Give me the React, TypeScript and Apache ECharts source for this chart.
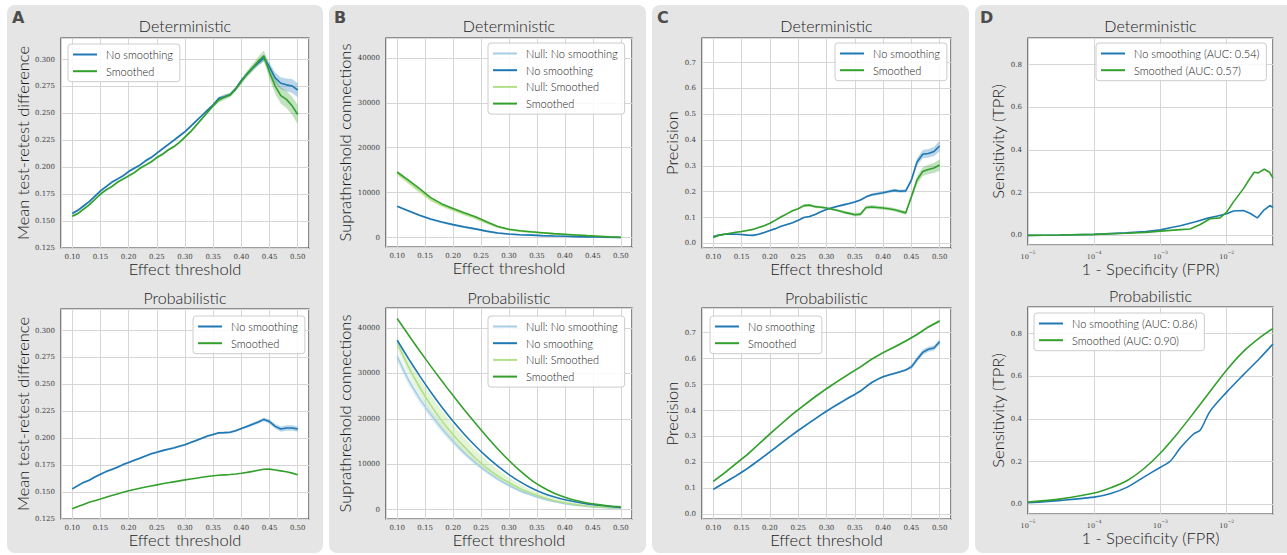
import React, { useEffect, useRef } from "react";
import * as echarts from "echarts";

const BLUE = "#1f78b4";
const GREEN = "#33a02c";
const LBLUE = "#a6cee3";
const LGREEN = "#b2df8a";

const SANS = "Lato, 'DejaVu Sans', sans-serif";
const SERIF = "'DejaVu Serif', 'Liberation Serif', serif";
const W = 300;

// Effect thresholds
const X41 = [0.10,0.11,0.12,0.13,0.14,0.15,0.16,0.17,0.18,0.19,0.20,0.21,0.22,0.23,0.24,0.25,0.26,0.27,0.28,0.29,0.30,0.31,0.32,0.33,0.34,0.35,0.36,0.37,0.38,0.39,0.40,0.41,0.42,0.43,0.44,0.45,0.46,0.47,0.48,0.49,0.50];
const X21 = [0.10,0.12,0.14,0.16,0.18,0.20,0.22,0.24,0.26,0.28,0.30,0.32,0.34,0.36,0.38,0.40,0.42,0.44,0.46,0.48,0.50];

// A: Mean test-retest difference
const A_DET_NO = [0.157,0.160,0.164,0.168,0.173,0.178,0.182,0.186,0.189,0.192,0.196,0.199,0.202,0.206,0.209,0.213,0.217,0.221,0.225,0.229,0.233,0.238,0.243,0.248,0.253,0.258,0.264,0.2655,0.2675,0.273,0.2805,0.2865,0.292,0.297,0.3015,0.293,0.283,0.278,0.2765,0.2755,0.2715];
const A_DET_SM = [0.1545,0.157,0.161,0.165,0.170,0.175,0.179,0.182,0.186,0.189,0.192,0.195,0.199,0.202,0.205,0.209,0.212,0.216,0.219,0.223,0.228,0.233,0.239,0.245,0.251,0.257,0.2625,0.265,0.267,0.2725,0.2795,0.2865,0.2925,0.2985,0.3035,0.288,0.2753,0.2665,0.263,0.257,0.249];
const A_DET_NO_HW = [0.0012,0.0012,0.0012,0.0012,0.0012,0.0012,0.0012,0.0012,0.0012,0.0012,0.0012,0.0012,0.0012,0.0012,0.0012,0.0012,0.0012,0.0012,0.0012,0.0012,0.0012,0.0012,0.0012,0.0012,0.0012,0.0012,0.0015,0.0015,0.0015,0.0015,0.0018,0.002,0.002,0.0025,0.003,0.004,0.005,0.0055,0.006,0.0065,0.0065];
const A_DET_SM_HW = [0.0012,0.0012,0.0012,0.0012,0.0012,0.0012,0.0012,0.0012,0.0012,0.0012,0.0012,0.0012,0.0012,0.0012,0.0012,0.0012,0.0012,0.0012,0.0012,0.0012,0.0012,0.0015,0.0015,0.0015,0.0015,0.0015,0.0025,0.0025,0.002,0.002,0.0025,0.003,0.0035,0.004,0.005,0.006,0.007,0.0075,0.008,0.0085,0.009];
const A_PROB_NO = [0.153,0.156,0.159,0.161,0.164,0.1665,0.169,0.171,0.173,0.1755,0.1775,0.1795,0.1815,0.1835,0.1855,0.187,0.1885,0.1898,0.191,0.1925,0.194,0.196,0.198,0.200,0.202,0.2035,0.205,0.2052,0.2055,0.207,0.209,0.211,0.213,0.215,0.2175,0.2155,0.211,0.2085,0.2095,0.2095,0.2085];
const A_PROB_SM = [0.1345,0.1365,0.1385,0.1405,0.1420,0.1435,0.1452,0.1468,0.1483,0.1498,0.1512,0.1524,0.1536,0.1547,0.1557,0.1567,0.1577,0.1586,0.1595,0.1604,0.1613,0.1621,0.1629,0.1637,0.1645,0.1652,0.1656,0.1660,0.1663,0.1668,0.1675,0.1683,0.1692,0.1702,0.1712,0.1713,0.1705,0.1697,0.1688,0.1676,0.1660];
const A_PROB_NO_HW = [0.001,0.001,0.001,0.001,0.001,0.001,0.001,0.001,0.001,0.001,0.001,0.001,0.001,0.001,0.001,0.001,0.001,0.001,0.001,0.001,0.001,0.001,0.001,0.001,0.001,0.001,0.001,0.001,0.001,0.001,0.001,0.0012,0.0013,0.0015,0.0018,0.002,0.0022,0.0025,0.0025,0.0025,0.0025];

// B: Suprathreshold connections
const B_DET_SM = [14600,12800,10900,8900,7500,6500,5550,4650,3550,2500,1850,1550,1300,1100,900,740,590,440,300,170,80];
const B_DET_NULL_SM = [14300,12400,10400,8500,7200,6200,5250,4350,3300,2350,1750,1450,1220,1020,840,690,550,410,280,160,70];
const B_DET_NULL_SM_HW = [500,500,500,450,400,380,350,300,250,200,150,120,100,90,80,70,60,50,40,30,20];
const B_DET_NO = [7000,6000,5000,4150,3500,2900,2400,1950,1450,1050,800,650,550,450,370,300,230,180,130,80,40];
const B_DET_NULL_NO = [6900,5900,4900,4050,3400,2820,2330,1890,1400,1000,760,620,520,420,350,280,215,165,120,70,30];
const B_PROB_SM = [42100,38500,35000,31600,28300,25100,22000,19000,16100,13350,10800,8500,6500,4900,3650,2700,1980,1450,1080,800,600];
const B_PROB_NO = [37300,33300,29500,25900,22550,19450,16600,14000,11650,9550,7700,6100,4750,3650,2800,2150,1650,1250,950,700,450];
const B_PROB_NULL_SM = [36700,31500,27000,23000,19500,16500,13800,11300,9200,7400,5900,4600,3600,2700,2000,1500,1100,800,600,450,350];
const B_PROB_NULL_SM_HI = [38000,33200,29000,25200,21800,18700,15800,13100,10800,8800,7000,5500,4300,3300,2500,1900,1400,1050,800,600,450];
const B_PROB_NULL_SM_LO = [35500,30000,25500,21500,18000,15000,12500,10300,8300,6600,5200,4000,3100,2300,1700,1200,850,600,420,300,230];
const B_PROB_NULL_NO = [33700,28600,24500,21000,17800,15000,12500,10300,8400,6700,5300,4100,3200,2400,1800,1300,950,700,500,380,300];
const B_PROB_NULL_NO_HW = [1100,1100,1000,1000,900,800,700,600,500,400,350,300,250,200,150,120,100,80,60,50,40];

// C: Precision
const C_DET_NO = [0.026,0.032,0.035,0.036,0.035,0.034,0.032,0.031,0.035,0.042,0.050,0.057,0.066,0.073,0.080,0.089,0.100,0.104,0.112,0.122,0.131,0.138,0.144,0.149,0.154,0.160,0.168,0.180,0.188,0.192,0.196,0.201,0.205,0.202,0.203,0.245,0.315,0.345,0.348,0.356,0.377];
const C_DET_SM = [0.023,0.031,0.035,0.039,0.043,0.046,0.050,0.054,0.061,0.068,0.078,0.090,0.103,0.114,0.126,0.134,0.146,0.148,0.142,0.140,0.137,0.132,0.127,0.121,0.116,0.111,0.113,0.139,0.141,0.139,0.137,0.134,0.130,0.124,0.118,0.180,0.245,0.278,0.286,0.292,0.303];
const C_DET_NO_HW = [0.003,0.003,0.003,0.003,0.003,0.003,0.003,0.003,0.003,0.003,0.003,0.003,0.003,0.003,0.003,0.003,0.003,0.003,0.003,0.003,0.003,0.004,0.004,0.004,0.004,0.004,0.004,0.004,0.006,0.006,0.006,0.006,0.006,0.006,0.006,0.010,0.015,0.016,0.017,0.018,0.020];
const C_DET_SM_HW = [0.003,0.003,0.003,0.003,0.003,0.003,0.003,0.003,0.003,0.003,0.003,0.003,0.003,0.003,0.003,0.003,0.005,0.005,0.005,0.005,0.005,0.005,0.005,0.005,0.005,0.007,0.007,0.007,0.007,0.007,0.007,0.007,0.007,0.007,0.007,0.012,0.016,0.017,0.018,0.020,0.022];
const C_PROB_NO = [0.096,0.109,0.122,0.135,0.148,0.162,0.176,0.192,0.208,0.224,0.241,0.257,0.274,0.291,0.307,0.323,0.338,0.353,0.368,0.383,0.397,0.411,0.424,0.437,0.450,0.462,0.475,0.492,0.508,0.520,0.530,0.537,0.543,0.549,0.556,0.568,0.597,0.624,0.636,0.641,0.665];
const C_PROB_NO_HW = [0.004,0.004,0.004,0.004,0.004,0.004,0.004,0.004,0.004,0.004,0.004,0.004,0.004,0.004,0.004,0.004,0.004,0.004,0.004,0.004,0.004,0.004,0.004,0.004,0.004,0.004,0.004,0.004,0.004,0.004,0.004,0.004,0.004,0.004,0.004,0.008,0.010,0.010,0.010,0.010,0.010];
const C_PROB_SM = [0.127,0.160,0.195,0.230,0.270,0.310,0.348,0.386,0.420,0.453,0.484,0.513,0.541,0.568,0.598,0.623,0.645,0.668,0.693,0.722,0.745];
const C_PROB_SM_HW = [0.004,0.004,0.004,0.004,0.004,0.004,0.004,0.004,0.004,0.004,0.004,0.004,0.004,0.004,0.004,0.004,0.004,0.004,0.004,0.005,0.006];

// D: ROC (FPR on log axis, TPR)
const D_DET_NO_FPR = [1e-5,3e-5,1e-4,3e-4,6e-4,1e-3,1.4e-3,2e-3,3.5e-3,5.2e-3,7e-3,0.01,0.0126,0.0178,0.0224,0.029,0.036,0.045,0.05];
const D_DET_NO_TPR = [0.0,0.002,0.005,0.012,0.018,0.026,0.036,0.045,0.065,0.081,0.090,0.101,0.114,0.117,0.104,0.082,0.117,0.140,0.130];
const D_DET_SM_FPR = [1e-5,3e-5,1e-4,3e-4,6e-4,1e-3,2e-3,2.8e-3,4e-3,5.6e-3,7.9e-3,0.01,0.0126,0.0178,0.0214,0.026,0.030,0.0368,0.0443,0.05];
const D_DET_SM_TPR = [0.0,0.002,0.005,0.010,0.014,0.020,0.027,0.030,0.051,0.078,0.082,0.109,0.156,0.218,0.257,0.296,0.293,0.310,0.296,0.269];
const D_PROB_NO_FPR = [1e-5,3.16e-5,1e-4,1.78e-4,3.16e-4,5.6e-4,1e-3,1.4e-3,2e-3,3.16e-3,4e-3,5.6e-3,0.01,0.0178,0.0316,0.05];
const D_PROB_NO_TPR = [0.008,0.019,0.034,0.051,0.081,0.128,0.174,0.202,0.265,0.330,0.349,0.436,0.526,0.607,0.685,0.752];
const D_PROB_SM_FPR = [1e-5,3.16e-5,1e-4,1.78e-4,3.16e-4,5.6e-4,1e-3,1.78e-3,3.16e-3,5.6e-3,0.01,0.0178,0.0316,0.05];
const D_PROB_SM_TPR = [0.011,0.026,0.053,0.078,0.112,0.167,0.241,0.330,0.428,0.529,0.630,0.716,0.781,0.825];

const GRIDS = [
  { left: 61, top: 38, width: 248, height: 210 },
  { left: 61, top: 309, width: 248, height: 210 },
  { left: 386, top: 38, width: 246, height: 209 },
  { left: 386, top: 308, width: 246, height: 211 },
  { left: 702, top: 38, width: 249, height: 210 },
  { left: 702, top: 308, width: 249, height: 211 },
  { left: 1028, top: 38, width: 245, height: 207 },
  { left: 1028, top: 307, width: 245, height: 207 },
];

const isMult = (v: number, step: number) => Math.abs(v / step - Math.round(v / step)) < 1e-6;

const tickLabel = { fontFamily: SERIF, fontSize: 7, color: "#3c3c3c" };
const nameStyle = { fontFamily: SANS, fontWeight: W, fontSize: 16.5, color: "#1a1a1a" };
const splitLine = { show: true, lineStyle: { color: "#d6d6d6", width: 1 } };

function lineSeries(name: string, xs: number[], ys: number[], color: string, g: number, extra: any = {}) {
  return {
    type: "line", name, xAxisIndex: g, yAxisIndex: g,
    data: xs.map((x, i) => [x, ys[i]]),
    symbol: "none", showSymbol: false,
    lineStyle: { color, width: 1.6 }, itemStyle: { color },
    z: 3, silent: true, animation: false, ...extra,
  };
}

function bandSeries(xs: number[], lo: number[], hi: number[], color: string, g: number, opacity: number) {
  return {
    type: "custom", xAxisIndex: g, yAxisIndex: g, silent: true, z: 2,
    data: xs.map((x, i) => [x, lo[i], hi[i]]),
    encode: { x: 0, y: [1, 2] },
    renderItem: (params: any, api: any) => {
      if (params.dataIndex !== 0) return null;
      const pts: number[][] = [];
      for (let i = 0; i < xs.length; i++) pts.push(api.coord([xs[i], hi[i]]));
      for (let i = xs.length - 1; i >= 0; i--) pts.push(api.coord([xs[i], lo[i]]));
      return { type: "polygon", shape: { points: pts }, style: { fill: color, opacity } };
    },
  };
}

const lower = (ys: number[], hw: number[]) => ys.map((y, i) => y - hw[i]);
const upper = (ys: number[], hw: number[]) => ys.map((y, i) => y + hw[i]);

function effXAxis(g: number) {
  return {
    type: "value", gridIndex: g, min: 0.08, max: 0.52, splitNumber: 9,
    axisLine: { show: false }, axisTick: { show: false }, splitLine,
    axisLabel: { ...tickLabel, margin: 5, formatter: (v: number) => (isMult(v, 0.05) ? v.toFixed(2) : "") },
    name: "Effect threshold", nameLocation: "middle", nameGap: 11, nameTextStyle: nameStyle,
  };
}

function logXAxis(g: number) {
  return {
    type: "log", logBase: 10, gridIndex: g, min: 1e-5, max: 0.05,
    axisLine: { show: false }, axisTick: { show: false }, splitLine,
    axisLabel: {
      margin: 5,
      formatter: (v: number) => {
        const e = Math.log10(v);
        const r = Math.round(e);
        if (Math.abs(e - r) > 1e-3) return "";
        return `{b|10}{s|\u2212${-r}}`;
      },
      rich: {
        b: { fontFamily: SERIF, fontSize: 6.5, color: "#3c3c3c", lineHeight: 10, verticalAlign: "bottom" },
        s: { fontFamily: SERIF, fontSize: 4.5, color: "#3c3c3c", lineHeight: 10, verticalAlign: "top" },
      },
    },
    name: "1 - Specificity (FPR)", nameLocation: "middle", nameGap: 14, nameTextStyle: nameStyle,
  };
}

function yAxis(g: number, kind: string) {
  const base: any = {
    type: "value", gridIndex: g,
    axisLine: { show: false }, axisTick: { show: false }, splitLine,
    nameLocation: "middle", nameTextStyle: nameStyle,
  };
  if (kind === "A") return { ...base, min: 0.125, max: 0.32, interval: 0.025, name: "Mean test-retest difference", nameGap: 26,
    axisLabel: { ...tickLabel, margin: 6, formatter: (v: number) => (isMult(v, 0.025) && v < 0.31 ? v.toFixed(3) : "") } };
  if (kind === "B") return { ...base, min: -2080, max: 44400, splitNumber: 5, name: "Suprathreshold connections", nameGap: 28,
    axisLabel: { ...tickLabel, margin: 6, formatter: (v: number) => (isMult(v, 10000) ? String(Math.round(v)) : "") } };
  if (kind === "C") return { ...base, min: -0.018, max: 0.795, splitNumber: 8, name: "Precision", nameGap: 18,
    axisLabel: { ...tickLabel, margin: 6, formatter: (v: number) => (isMult(v, 0.1) ? v.toFixed(1) : "") } };
  return { ...base, min: -0.045, max: 0.925, splitNumber: 5, name: "Sensitivity (TPR)", nameGap: 18,
    axisLabel: { ...tickLabel, margin: 6, formatter: (v: number) => (isMult(v, 0.2) ? v.toFixed(1) : "") } };
}

function legend(left: number, top: number, data: string[]) {
  return {
    left, top, orient: "vertical", data, icon: "rect", itemWidth: 24, itemHeight: 2, itemGap: 3.7,
    selectedMode: false, backgroundColor: "rgba(255,255,255,0.85)", borderColor: "#cccccc", borderWidth: 1,
    borderRadius: 3, padding: [4, 7, 4, 5],
    textStyle: { fontFamily: SANS, fontWeight: W, fontSize: 11, color: "#1a1a1a", lineHeight: 13, padding: [0, 0, 0, 4] },
  };
}

const PANELS = [
  { x: 7, letter: "A", w: 316, cx: 185 },
  { x: 329, letter: "B", w: 317, cx: 509 },
  { x: 652, letter: "C", w: 317, cx: 826.5 },
  { x: 975, letter: "D", w: 320, cx: 1150.5 },
];

function buildOption() {
  const series: any[] = [
    bandSeries(X41, lower(A_DET_NO, A_DET_NO_HW), upper(A_DET_NO, A_DET_NO_HW), BLUE, 0, 0.3),
    bandSeries(X41, lower(A_DET_SM, A_DET_SM_HW), upper(A_DET_SM, A_DET_SM_HW), GREEN, 0, 0.3),
    lineSeries("No smoothing", X41, A_DET_NO, BLUE, 0),
    lineSeries("Smoothed", X41, A_DET_SM, GREEN, 0),
    bandSeries(X41, lower(A_PROB_NO, A_PROB_NO_HW), upper(A_PROB_NO, A_PROB_NO_HW), BLUE, 1, 0.3),
    lineSeries("No smoothing", X41, A_PROB_NO, BLUE, 1),
    lineSeries("Smoothed", X41, A_PROB_SM, GREEN, 1),
    bandSeries(X21, lower(B_DET_NULL_SM, B_DET_NULL_SM_HW), upper(B_DET_NULL_SM, B_DET_NULL_SM_HW), LGREEN, 2, 0.4),
    lineSeries("Null: No smoothing", X21, B_DET_NULL_NO, LBLUE, 2),
    lineSeries("Null: Smoothed", X21, B_DET_NULL_SM, LGREEN, 2),
    lineSeries("No smoothing", X21, B_DET_NO, BLUE, 2),
    lineSeries("Smoothed", X21, B_DET_SM, GREEN, 2),
    bandSeries(X21, lower(B_PROB_NULL_NO, B_PROB_NULL_NO_HW), upper(B_PROB_NULL_NO, B_PROB_NULL_NO_HW), LBLUE, 3, 0.3),
    bandSeries(X21, B_PROB_NULL_SM_LO, B_PROB_NULL_SM_HI, LGREEN, 3, 0.35),
    lineSeries("Null: No smoothing", X21, B_PROB_NULL_NO, LBLUE, 3, { smooth: 0.2 }),
    lineSeries("Null: Smoothed", X21, B_PROB_NULL_SM, LGREEN, 3, { smooth: 0.2 }),
    lineSeries("No smoothing", X21, B_PROB_NO, BLUE, 3, { smooth: 0.2 }),
    lineSeries("Smoothed", X21, B_PROB_SM, GREEN, 3, { smooth: 0.2 }),
    bandSeries(X41, lower(C_DET_NO, C_DET_NO_HW), upper(C_DET_NO, C_DET_NO_HW), BLUE, 4, 0.3),
    bandSeries(X41, lower(C_DET_SM, C_DET_SM_HW), upper(C_DET_SM, C_DET_SM_HW), GREEN, 4, 0.3),
    lineSeries("No smoothing", X41, C_DET_NO, BLUE, 4),
    lineSeries("Smoothed", X41, C_DET_SM, GREEN, 4),
    bandSeries(X41, lower(C_PROB_NO, C_PROB_NO_HW), upper(C_PROB_NO, C_PROB_NO_HW), BLUE, 5, 0.3),
    bandSeries(X21, lower(C_PROB_SM, C_PROB_SM_HW), upper(C_PROB_SM, C_PROB_SM_HW), GREEN, 5, 0.3),
    lineSeries("No smoothing", X41, C_PROB_NO, BLUE, 5),
    lineSeries("Smoothed", X21, C_PROB_SM, GREEN, 5),
    lineSeries("No smoothing (AUC: 0.54)", D_DET_NO_FPR, D_DET_NO_TPR, BLUE, 6),
    lineSeries("Smoothed (AUC: 0.57)", D_DET_SM_FPR, D_DET_SM_TPR, GREEN, 6),
    lineSeries("No smoothing (AUC: 0.86)", D_PROB_NO_FPR, D_PROB_NO_TPR, BLUE, 7, { smooth: 0.3 }),
    lineSeries("Smoothed (AUC: 0.90)", D_PROB_SM_FPR, D_PROB_SM_TPR, GREEN, 7, { smooth: 0.3 }),
  ];

  const graphic: any[] = [];
  PANELS.forEach((p) => {
    graphic.push({ type: "rect", z: -10, shape: { x: p.x, y: 5, width: p.w, height: 548, r: 8 }, style: { fill: "#e5e5e5" }, silent: true });
    graphic.push({ type: "text", z: 10, x: p.x + 5, y: 17.5, style: { text: p.letter, fontFamily: "'DejaVu Sans', sans-serif", fontWeight: "bold", fontSize: 16, fill: "#4d4d4d", textAlign: "left", textVerticalAlign: "middle" } });
    graphic.push({ type: "text", z: 10, x: p.cx, y: 25, style: { text: "Deterministic", fontFamily: SANS, fontWeight: W, fontSize: 16, fill: "#1a1a1a", textAlign: "center", textVerticalAlign: "middle" } });
    graphic.push({ type: "text", z: 10, x: p.cx, y: p.letter === "D" ? 295 : 297, style: { text: "Probabilistic", fontFamily: SANS, fontWeight: W, fontSize: 16, fill: "#1a1a1a", textAlign: "center", textVerticalAlign: "middle" } });
  });

  return {
    animation: false,
    backgroundColor: "transparent",
    graphic,
    grid: GRIDS.map((g) => ({ ...g, show: true, backgroundColor: "#ffffff", borderColor: "#3a3a3a", borderWidth: 1.2, containLabel: false })),
    xAxis: [effXAxis(0), effXAxis(1), effXAxis(2), effXAxis(3), effXAxis(4), effXAxis(5), logXAxis(6), logXAxis(7)],
    yAxis: [yAxis(0, "A"), yAxis(1, "A"), yAxis(2, "B"), yAxis(3, "B"), yAxis(4, "C"), yAxis(5, "C"), yAxis(6, "D"), yAxis(7, "D")],
    legend: [
      legend(68, 44, ["No smoothing", "Smoothed"]),
      legend(193, 316, ["No smoothing", "Smoothed"]),
      legend(488, 43, ["Null: No smoothing", "No smoothing", "Null: Smoothed", "Smoothed"]),
      legend(488, 316, ["Null: No smoothing", "No smoothing", "Null: Smoothed", "Smoothed"]),
      legend(835, 43, ["No smoothing", "Smoothed"]),
      legend(710, 316, ["No smoothing", "Smoothed"]),
      legend(1096, 43, ["No smoothing (AUC: 0.54)", "Smoothed (AUC: 0.57)"]),
      legend(1034, 313, ["No smoothing (AUC: 0.86)", "Smoothed (AUC: 0.90)"]),
    ],
    series,
  };
}

export default function App() {
  const ref = useRef<HTMLDivElement>(null);
  useEffect(() => {
    if (!ref.current) return;
    const chart = echarts.init(ref.current, undefined, { renderer: "svg" });
    chart.setOption(buildOption() as any);
    return () => chart.dispose();
  }, []);
  return (
    <div
      ref={ref}
      style={{ position: "absolute", left: 0, top: 0, width: 1287, height: 555, background: "#ffffff" }}
    />
  );
}
